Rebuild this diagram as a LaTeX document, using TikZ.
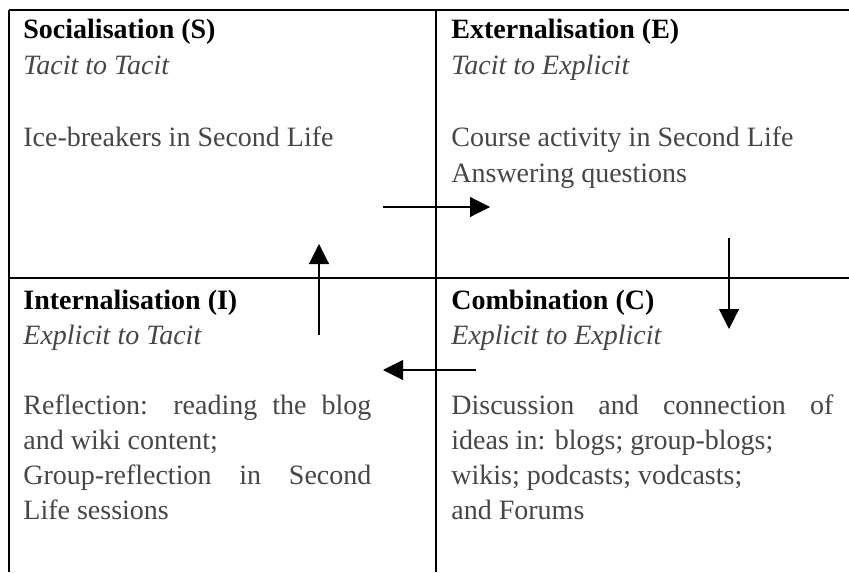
\documentclass[tikz,border=0pt]{standalone}
\usepackage{fontspec}
\setmainfont{Liberation Serif}
\usetikzlibrary{arrows.meta}
\definecolor{bodygray}{RGB}{70,70,70}
\begin{document}
\begin{tikzpicture}[x = 0.5pt, y = -0.5pt,
  grid/.style = {line width=0.65pt},
  flow/.style = {line width=0.55pt, -{Triangle[length=10pt,width=10pt]}},
  cell/.style = {anchor=base west, align=left, inner sep=0pt, text=bodygray,
                 font=\fontsize{14}{#1}\selectfont},
  cell/.default = 17.5]
\useasboundingbox (0,0) rectangle (849,572);
%%%% Table lines:
\draw[grid] (9,10) -- (849,10);
\draw[grid] (9,278) -- (849,278);
\draw[grid] (9,10) -- (9,572);
\draw[grid] (436,10) -- (436,572);
%%%% Cell texts (placed at the baseline of their last line)
\node[cell=18] (soc) at (23,147) {\textcolor{black}{\bfseries Socialisation (S)}\\
  \textit{Tacit to Tacit}\\ \strut\\
  Ice-breakers in Second Life};
\node[cell=18] (ext) at (451,183) {\textcolor{black}{\bfseries Externalisation (E)}\\
  \textit{Tacit to Explicit}\\ \strut\\
  Course activity in Second Life\\
  Answering questions};
\node[cell] (int) at (23,519) {\textcolor{black}{\bfseries Internalisation (I)}\\
  \textit{Explicit to Tacit}\\ \strut\\
  \makebox[174pt][s]{Reflection: reading the blog}\\
  and wiki content;\\
  \makebox[174pt][s]{Group-reflection in Second}\\
  Life sessions};
\node[cell] (com) at (451,519) {\textcolor{black}{\bfseries Combination (C)}\\
  \textit{Explicit to Explicit}\\ \strut\\
  \makebox[191pt][s]{Discussion and connection of}\\
  ideas in: blogs; group-blogs;\\
  wikis; podcasts; vodcasts;\\
  and Forums};
%%%% Arrows between the cells:
\coordinate (s2e-a) at (383,207);
\coordinate (s2e-b) at (490,207);
\coordinate (e2c-a) at (729,238);
\coordinate (e2c-b) at (729,329);
\coordinate (c2i-a) at (476,370);
\coordinate (c2i-b) at (383,370);
\coordinate (i2s-a) at (319,335);
\coordinate (i2s-b) at (319,244);
\draw[flow] (s2e-a) -- (s2e-b);
\draw[flow] (e2c-a) -- (e2c-b);
\draw[flow] (c2i-a) -- (c2i-b);
\draw[flow] (i2s-a) -- (i2s-b);
\end{tikzpicture}
\end{document}
